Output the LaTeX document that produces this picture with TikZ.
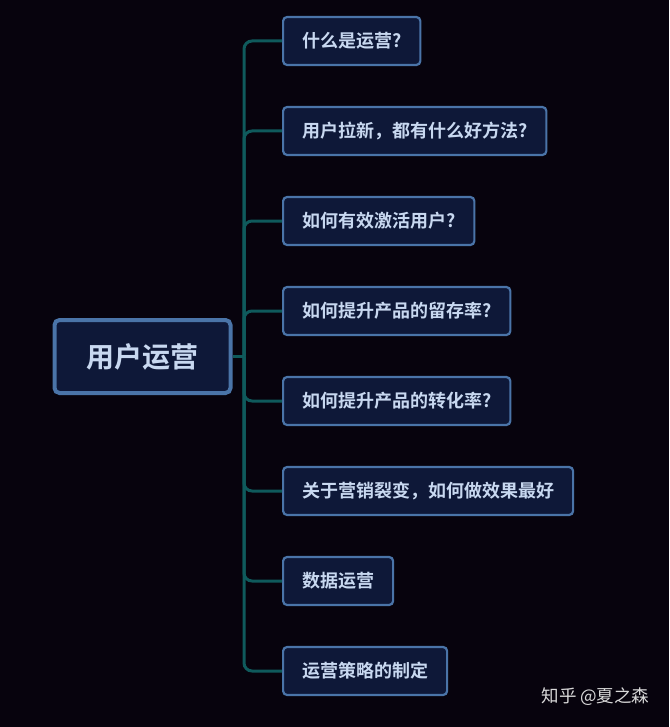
\documentclass[tikz,border=0pt]{standalone}
\usepackage{fontspec}
\setmainfont{Noto Sans CJK SC}
\newfontfamily\cjkb{Noto Sans CJK SC Bold}
\definecolor{bg}{HTML}{07030D}
\definecolor{boxf}{HTML}{0E1838}
\definecolor{boxd}{HTML}{4A74A8}
\definecolor{txt}{HTML}{C8D8F0}
\definecolor{lnk}{HTML}{0F5A5C}
\begin{document}
\begin{tikzpicture}[x=1pt,y=-1pt,
  child/.style={draw=boxd,fill=boxf,line width=2.2pt,rounded corners=4pt,anchor=west,minimum height=48pt,inner xsep=19pt,text=txt,font=\cjkb\fontsize{18}{21}\selectfont},
  link/.style={draw=lnk,line width=3pt,rounded corners=8pt}]
\fill[bg] (0,0) rectangle (669,727);
\node[draw=boxd,fill=boxf,line width=4pt,rounded corners=5pt,minimum width=176pt,minimum height=73pt,text=txt,font=\cjkb\fontsize{28}{32}\selectfont] (root) at (142.5,356.5) {用户运营};
\node[child] (c1) at (282,41) {什么是运营?};
\node[child] (c2) at (282,131) {用户拉新，都有什么好方法?};
\node[child] (c3) at (282,221) {如何有效激活用户?};
\node[child] (c4) at (282,311) {如何提升产品的留存率?};
\node[child] (c5) at (282,401) {如何提升产品的转化率?};
\node[child] (c6) at (282,491) {关于营销裂变，如何做效果最好};
\node[child] (c7) at (282,581) {数据运营};
\node[child] (c8) at (282,671) {运营策略的制定};
\coordinate (j) at (244,356.5);
\draw[draw=lnk,line width=3pt] (root.east) -- (j);
\foreach \c in {c1,c2,c3,c4,c5,c6,c7,c8}{
  \draw[link] (j) |- (\c.west);
}
\node[text=white!85!black,font=\fontsize{17.5}{20}\selectfont,anchor=east] (wm) at (653,697) {知乎 @夏之森};
\end{tikzpicture}
\end{document}
